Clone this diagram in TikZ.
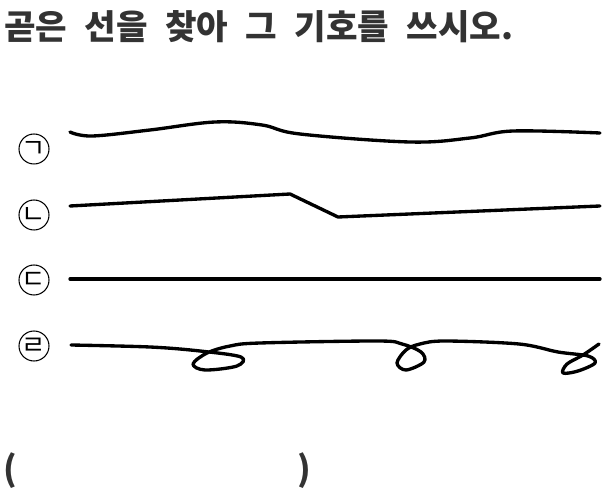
\documentclass[tikz,border=0pt]{standalone}
\usepackage{fontspec}
\newfontfamily\kr{Noto Sans CJK KR}
\usepackage{tikz}

\begin{document}
\begin{tikzpicture}
                [
                x=0.02cm, y=-0.02cm,
                sign/.style={circle,draw,line width=0.6pt,minimum size=0.6cm,inner sep=0pt,font=\kr\fontsize{15}{15}\selectfont},
                stroke/.style={line width=1.9pt,line cap=round,line join=round},
                heading/.style={inner sep=0pt,text=black!80,font=\kr\bfseries\fontsize{19.5}{22}\selectfont}
                ]
            \useasboundingbox (0,0) rectangle (614,499);
            \node[heading,anchor=west] (title) at (4,27) {곧은\hspace{0.28em} 선을\hspace{0.28em} 찾아\hspace{0.28em} 그\hspace{0.28em} 기호를\hspace{0.28em} 쓰시오.};
            \node[sign] (1) at (34,149) {ㄱ};
            \node[sign] (2) at (34,215) {ㄴ};
            \node[sign] (3) at (34,280) {ㄷ};
            \node[sign] (4) at (34,346) {ㄹ};
            % wavy line
            \draw[stroke] plot[smooth,tension=0.6] coordinates {(70,132) (92,136) (150,130) (215,122) (262,125) (300,134) (410,142) (470,138) (513,131) (600,133)};
            % broken line
            \draw[stroke] (70,206) -- (290,194) -- (338,217) -- (600,206);
            % straight line
            \draw[stroke] (70,279) -- (600,279);
            % loops
            \draw[stroke] plot[smooth,tension=0.55] coordinates {(71,345) (150,347) (200,351) (241,357) (237,366) (205,370) (193,364) (207,353) (230,346) (260,343) (378,341) (402,344) (421,352) (424,362) (406,370) (397,363) (406,350) (420,344) (445,341) (519,344) (558,352) (588,356) (595,363) (578,371) (563,373) (567,364) (583,355) (599,344)};
            \node[heading] (lp) at (10,471) {(};
            \node[heading] (rp) at (304,471) {)};
            \end{tikzpicture}
\end{document}
